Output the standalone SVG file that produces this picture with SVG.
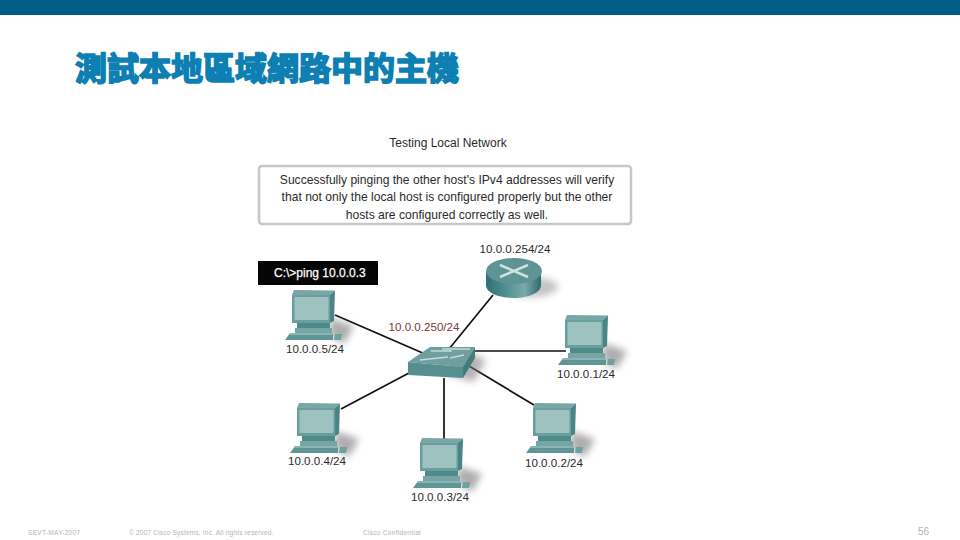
<svg xmlns="http://www.w3.org/2000/svg" width="960" height="540" viewBox="0 0 960 540">
<style>
text{font-family:"Liberation Sans",Arial,sans-serif;fill:#2a2a2a}
.ttl{font-family:"Noto Sans CJK TC","Noto Sans CJK SC",sans-serif;font-size:32px;font-weight:700;fill:#0d7fb2;stroke:#0d7fb2;stroke-width:1.7px}
.lbl{font-size:11.6px;text-anchor:middle}
.msg{font-size:12.1px;text-anchor:middle}
.ftr{font-size:6.5px;fill:#b4b4b4}
.link{stroke:#111;stroke-width:1.7;fill:none}
</style>
<defs>
<filter id="blur" x="-50%" y="-50%" width="200%" height="200%"><feGaussianBlur stdDeviation="3.500"/></filter>
<filter id="soft" x="-10%" y="-10%" width="120%" height="120%"><feGaussianBlur stdDeviation=".5"/></filter>
<linearGradient id="routerSide" x1="0" x2="1" y1="0" y2="0">
<stop offset="0" stop-color="#2f6f73"/><stop offset=".35" stop-color="#4f8f92"/><stop offset=".7" stop-color="#7aa9aa"/><stop offset="1" stop-color="#2f6a6e"/>
</linearGradient>
<g id="host">
<path d="M38 28 L62 36 L52 54 L38 46Z" fill="#777" opacity=".6" filter="url(#blur)"/>
<g filter="url(#soft)">
<path d="M2 0 L43 .5 L38 5 L0 5Z" fill="#7aa6a6"/>
<path d="M38 5 L43 .5 L42 31 L38 33Z" fill="#4a8486"/>
<rect x="0" y="5" width="38" height="28" fill="#6b9fa0"/>
<rect x="2.500" y="7" width="34" height="23" rx="1" fill="#9ec2bf"/>
<path d="M5 33 H38 V38 H5Z" fill="#4f8a8b"/>
<path d="M3 38 H40 V43 H3Z" fill="#74a5a4"/>
<path d="M-2 43 H41 V50 H-7Z" fill="#5f9595"/>
<path d="M-2 43 H41 V45 H-3Z" fill="#8db4b3"/>
<path d="M43 44 H50 L49 50 H42Z" fill="#6fa0a0"/>
</g>
</g>
</defs>
<rect id="topbar" x="0" y="0" width="960" height="15" fill="#005f88"/>
<text class="ttl" x="75" y="80">測試本地區域網路中的主機</text>
<g id="connectors">
<line class="link" x1="335" y1="315" x2="425" y2="354"/>
<line class="link" x1="493" y1="295" x2="449" y2="349"/>
<line class="link" x1="473" y1="351" x2="566" y2="351"/>
<line class="link" x1="469" y1="366" x2="534" y2="405"/>
<line class="link" x1="444" y1="378" x2="444" y2="439"/>
<line class="link" x1="409" y1="373" x2="341" y2="409"/>
</g>
<g id="caption"><text x="448" y="147" font-size="12" text-anchor="middle">Testing Local Network</text></g>
<g id="note">
<rect x="259" y="166" width="372" height="58" rx="3" fill="#fff" stroke="#c4c8c8" stroke-width="2.500"/>
<text class="msg" x="447" y="184">Successfully pinging the other host's IPv4 addresses will verify</text>
<text class="msg" x="447" y="201">that not only the local host is configured properly but the other</text>
<text class="msg" x="447" y="219">hosts are configured correctly as well.</text>
</g>
<g id="command">
<rect x="258" y="261" width="120" height="24" fill="#050505"/>
<text x="274" y="277" font-size="12" stroke="#fff" stroke-width=".25" style="fill:#fff">C:\&gt;ping 10.0.0.3</text>
</g>
<g id="router">
<ellipse cx="530" cy="287" rx="28" ry="10" fill="#888" opacity=".5" filter="url(#blur)"/>
<g filter="url(#soft)">
<path d="M486 272 V285 C486 293 499 298 514 298 C528 298 541 293 541 285 V272Z" fill="url(#routerSide)"/>
<ellipse cx="514" cy="271" rx="28" ry="13" fill="#5f9496"/>
<path d="M500 265 L528 277 M528 265 L500 277" stroke="#cfe2df" stroke-width="2.500" fill="none"/>
</g>
<text class="lbl" x="515" y="253">10.0.0.254/24</text>
</g>
<g id="switch">
<path d="M468 352 L486 360 L474 382 L446 374Z" fill="#777" opacity=".55" filter="url(#blur)"/>
<g filter="url(#soft)">
<path d="M430 347 L475 347 L463 367 L408 362Z" fill="#6f9fa0"/>
<path d="M408 362 L463 367 V378 L408 375Z" fill="#558f90"/>
<path d="M463 367 L475 347 V358 L463 378Z" fill="#427b7d"/>
<path d="M431 351 L452 351 M420 360 L448 357 M450 358 L464 355 M442 349 L470 349" stroke="#c5dbd9" stroke-width="1.300" fill="none"/>
</g>
</g>
<g id="gateway-label"><text class="lbl" x="424" y="331" style="fill:#7a3a3a">10.0.0.250/24</text></g>
<g id="host-5"><use href="#host" x="292" y="290"/><text class="lbl" x="315" y="353">10.0.0.5/24</text></g>
<g id="host-1"><use href="#host" x="565" y="315"/><text class="lbl" x="586" y="378">10.0.0.1/24</text></g>
<g id="host-4"><use href="#host" x="297" y="403"/><text class="lbl" x="317" y="465">10.0.0.4/24</text></g>
<g id="host-3"><use href="#host" x="420" y="438"/><text class="lbl" x="440" y="501">10.0.0.3/24</text></g>
<g id="host-2"><use href="#host" x="533" y="403"/><text class="lbl" x="554" y="467">10.0.0.2/24</text></g>
<g id="footer">
<text class="ftr" x="28" y="535" letter-spacing=".3">SEVT-MAY-2007</text>
<text class="ftr" x="129" y="535" letter-spacing=".2">© 2007 Cisco Systems, Inc. All rights reserved.</text>
<text class="ftr" x="363" y="535" letter-spacing=".3">Cisco Confidential</text>
<text x="918" y="535" font-size="10" style="fill:#b4b4b4">56</text>
</g>
</svg>
